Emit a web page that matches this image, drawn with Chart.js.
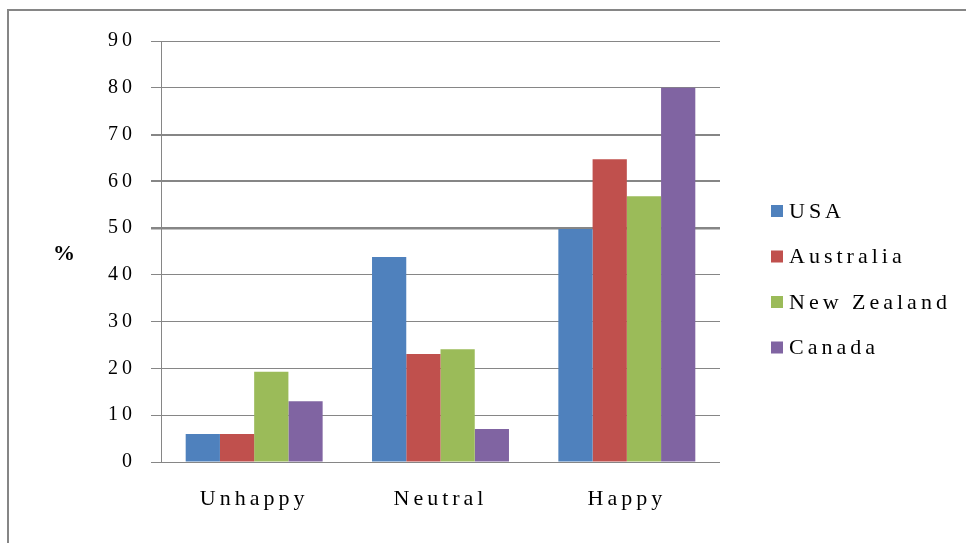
<!DOCTYPE html>
<html>
<head>
<meta charset="utf-8">
<script src="https://cdn.jsdelivr.net/npm/chart.js@4.4.1/dist/chart.umd.min.js"></script>
<style>
  html, body { margin: 0; padding: 0; background: #ffffff; }
  #wrap { position: relative; width: 966px; height: 543px; overflow: hidden; }
  #frame { position: absolute; left: 7px; top: 9px; width: 1000px; height: 600px;
           border-top: 2px solid #868686; border-left: 2px solid #868686; }
  canvas { position: absolute; left: 0; top: 0; }
</style>
</head>
<body>
<div id="wrap">
  <div id="frame"></div>
  <canvas id="c" width="966" height="543"></canvas>
</div>
<script>
const categories = ['Unhappy', 'Neutral', 'Happy'];
const seriesNames = ['USA', 'Australia', 'New Zealand', 'Canada'];
const usa = [6, 43.8, 49.8];
const australia = [6, 23.1, 64.7];
const newZealand = [19.3, 24.1, 56.8];
const canada = [13, 7.05, 80];
const yMin = 0, yMax = 90, yStep = 10;
const yAxisLabel = '%';

const colors = ['#4F81BD', '#C0504D', '#9BBB59', '#8064A2'];
const seriesValues = [usa, australia, newZealand, canada];
const FONT = "'Liberation Serif', 'Times New Roman', serif";

const textPlugin = {
  id: 'textPlugin',
  beforeLayout(chart) { chart.ctx.letterSpacing = '4px'; },
  beforeDraw(chart) { chart.ctx.letterSpacing = '4px'; },
  afterDraw(chart) {
    const ctx = chart.ctx;
    const area = chart.chartArea;
    ctx.save();
    // y axis label
    ctx.letterSpacing = '0px';
    ctx.font = "bold 22px " + FONT;
    ctx.fillStyle = '#000';
    ctx.textAlign = 'center';
    ctx.textBaseline = 'middle';
    ctx.fillText(yAxisLabel, 64, chart.scales.y.getPixelForValue(44.5));
    // legend
    ctx.letterSpacing = '4px';
    ctx.font = "22px " + FONT;
    ctx.textAlign = 'left';
    const items = chart.data.datasets;
    const rowH = 45.5;
    const boxX = area.right + 51;
    const firstY = 211;
    items.forEach((ds, i) => {
      const cy = firstY + i * rowH;
      ctx.fillStyle = ds.backgroundColor;
      ctx.fillRect(boxX, cy - 6, 12, 12);
      ctx.fillStyle = '#000';
      ctx.fillText(ds.label, boxX + 18, cy + 1);
    });
    ctx.restore();
  }
};

new Chart(document.getElementById('c'), {
  type: 'bar',
  data: {
    labels: categories,
    datasets: seriesNames.map((n, i) => ({
      label: n,
      data: seriesValues[i],
      backgroundColor: colors[i],
      borderWidth: 0,
      categoryPercentage: 0.735,
      barPercentage: 1.0
    }))
  },
  options: {
    responsive: false,
    animation: false,
    layout: { padding: { top: 41, bottom: 25, left: 0, right: 246 } },
    plugins: {
      tooltip: { enabled: false },
      legend: { display: false }
    },
    scales: {
      x: {
        grid: { display: false, drawTicks: false },
        border: { display: false },
        ticks: { color: '#000', font: { family: FONT, size: 22 }, padding: 24 },
        afterFit(s) { s.height = 56; }
      },
      y: {
        min: yMin, max: yMax,
        ticks: { stepSize: yStep, color: '#000', font: { family: FONT, size: 20 }, padding: 15 },
        grid: {
          color: '#868686',
          tickLength: 10,
          lineWidth: (c) => {
            const v = c.tick ? c.tick.value : null;
            if (v === 50) return 2.5;
            if (v === 60 || v === 70) return 2;
            return 1;
          }
        },
        border: { display: true, color: '#868686', width: 1 },
        afterFit(s) { s.width = 161; }
      }
    }
  },
  plugins: [textPlugin]
});
</script>
</body>
</html>
